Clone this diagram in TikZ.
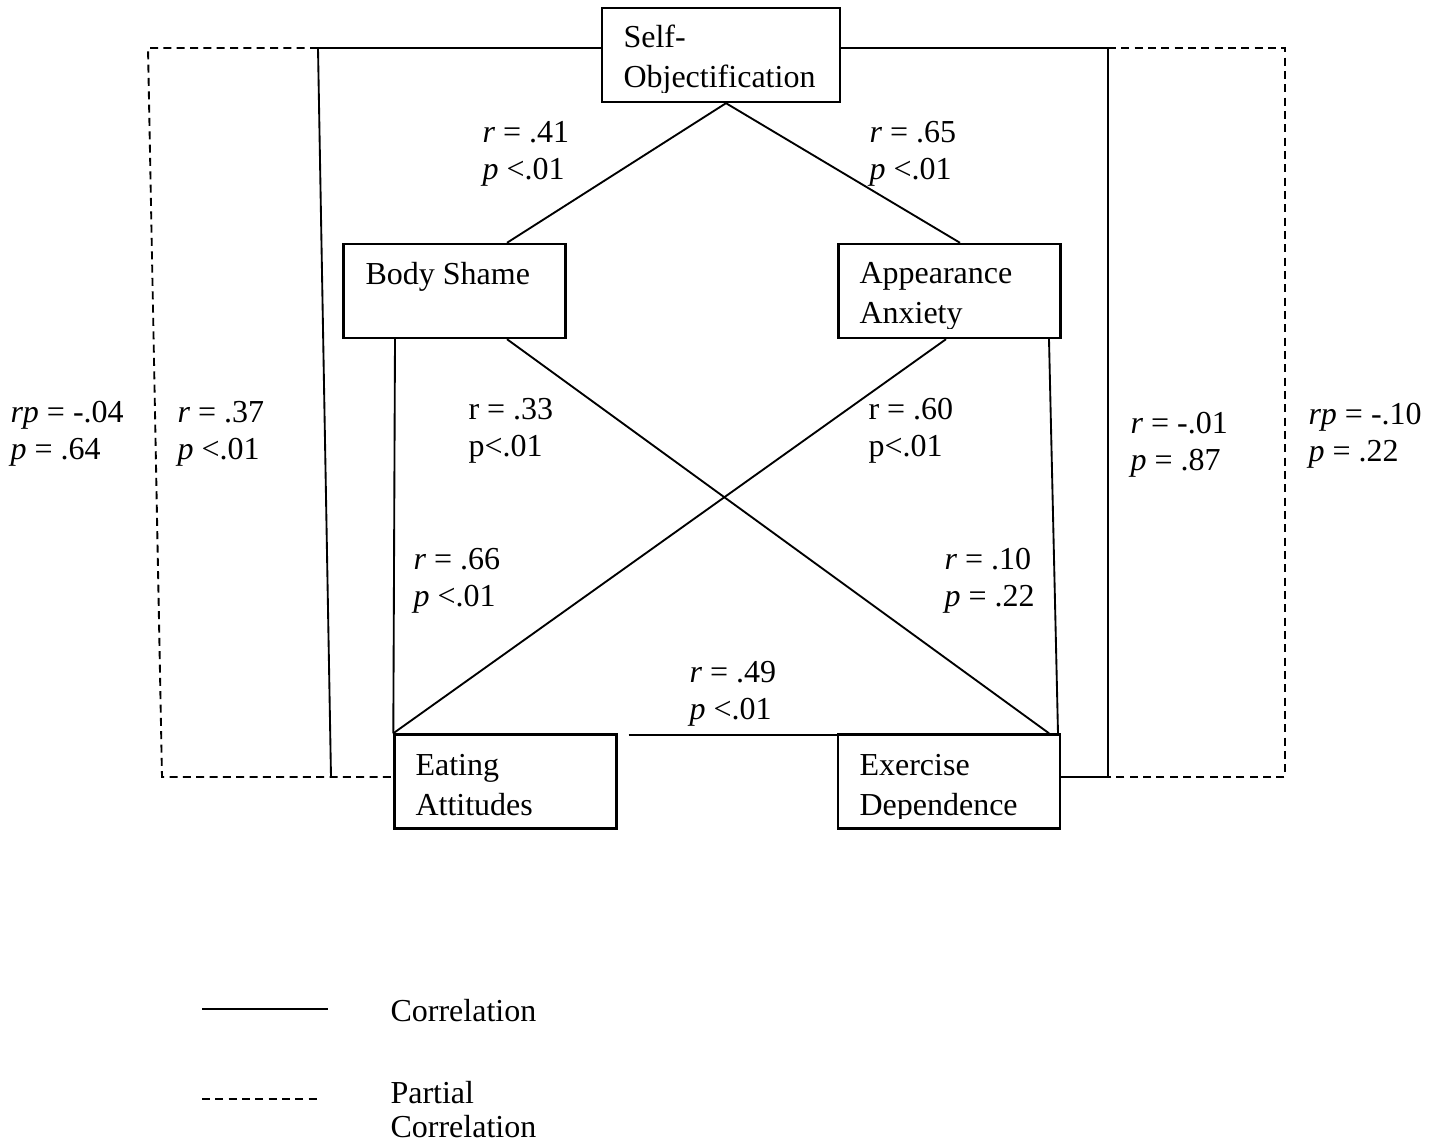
\documentclass[tikz,border=0pt]{standalone}
\usepackage{fontspec}
\setmainfont{Liberation Serif}
\begin{document}
\begin{tikzpicture}[x=0.375pt, y=-0.375pt,
			var/.style={draw, rectangle, line width=0.9pt, minimum width=83.25pt, minimum height=35.25pt, inner sep=0pt},
			vtext/.style={anchor=base west, inner sep=0pt, align=left, font=\fontsize{12pt}{15pt}\selectfont},
			lab/.style={anchor=base west, inner sep=0pt, align=left, font=\fontsize{12pt}{13.9pt}\selectfont},
			corr/.style={line width=0.7pt},
			partial/.style={line width=0.7pt, dash pattern=on 3pt off 2pt}]
			\useasboundingbox (0,0) rectangle (1436,1143);

			\node[var, minimum width=89.25pt](so) at (721, 55) {};
			\node[var](bs) at (454.5, 291) {};
			\node[var](aa) at (949.5, 291) {};
			\node[var](ea) at (505.5, 781.5) {};
			\node[var](ed) at (949, 781.5) {};

			\begin{scope}
			\clip (so.north west) rectangle ([shift={(0,-11)}]so.south east);
			\node[vtext](sot) at (623, 88) {Self-\\Objectification};
			\end{scope}
			\node[vtext](bst) at (365, 285) {Body Shame};
			\begin{scope}
			\clip (aa.north west) rectangle ([shift={(0,-11)}]aa.south east);
			\node[vtext](aat) at (859, 324) {Appearance\\Anxiety};
			\end{scope}
			\node[vtext](eat) at (415, 816) {Eating\\Attitudes};
			\begin{scope}
			\clip (ed.north west) rectangle ([shift={(0,-11)}]ed.south east);
			\node[vtext](edt) at (859, 816) {Exercise\\Dependence};
			\end{scope}

			\coordinate (tl) at (318, 48);
			\coordinate (bl) at (331, 777);
			\coordinate (tld) at (148, 48);
			\coordinate (bld) at (162, 777);
			\coordinate (tr) at (1108, 48);
			\coordinate (br) at (1108, 777);
			\coordinate (trd) at (1285, 48);
			\coordinate (brd) at (1285, 777);

			\draw[corr] (tl -| so.west) -- (tl) -- (bl);
			\draw[partial] (tl) -- (tld) -- (bld) -- (bld -| ea.west);
			\draw[corr] (tr -| so.east) -- (tr) -- (br) -- (br -| ed.east);
			\draw[partial] (tr) -- (trd) -- (brd) -- (br);

			\draw[corr] ([shift={(52.5,0)}]bs.north) -- ([shift={(5,0)}]so.south) -- ([shift={(10.5,0)}]aa.north);
			\draw[corr] ([shift={(-59.5,0)}]bs.south) -- (ea.north west);
			\draw[corr] ([shift={(52.5,0)}]bs.south) -- ([shift={(100,0)}]ed.north);
			\draw[corr] ([shift={(-3.5,0)}]aa.south) -- (ea.north west);
			\draw[corr] ([shift={(99.5,0)}]aa.south) -- ([shift={(109,0)}]ed.north);
			\draw[corr] ([shift={(11,2)}]ea.north east) -- ([shift={(0,2)}]ed.north west);

			\node[lab](l41) at (482, 180) {\textit{r} = .41\\\textit{p} <.01};
			\node[lab](l65) at (869, 180) {\textit{r} = .65\\\textit{p} <.01};
			\node[lab](lm04) at (10, 460) {\textit{rp} = -.04\\\textit{p} = .64};
			\node[lab](l37) at (177, 460) {\textit{r} = .37\\\textit{p} <.01};
			\node[lab](l33) at (468, 457) {r = .33\\p<.01};
			\node[lab](l60) at (868, 457) {r = .60\\p<.01};
			\node[lab](lm01) at (1130, 471) {\textit{r} = -.01\\\textit{p} = .87};
			\node[lab](lm10) at (1308, 462) {\textit{rp} = -.10\\\textit{p} = .22};
			\node[lab](l66) at (413, 607) {\textit{r} = .66\\\textit{p} <.01};
			\node[lab](l10) at (944, 607) {\textit{r} = .10\\\textit{p} = .22};
			\node[lab](l49) at (689, 720) {\textit{r} = .49\\\textit{p} <.01};

			\coordinate (k1) at (202, 1009);
			\coordinate (k2) at (328, 1009);
			\coordinate (k3) at (202, 1099);
			\coordinate (k4) at (318, 1099);
			\draw[corr] (k1) -- (k2);
			\draw[partial] (k3) -- (k4);
			\node[lab](kc) at (390, 1021) {Correlation};
			\node[lab, font=\fontsize{12pt}{12.75pt}\selectfont](kp) at (390, 1137) {Partial\\Correlation};
			\end{tikzpicture}
\end{document}
